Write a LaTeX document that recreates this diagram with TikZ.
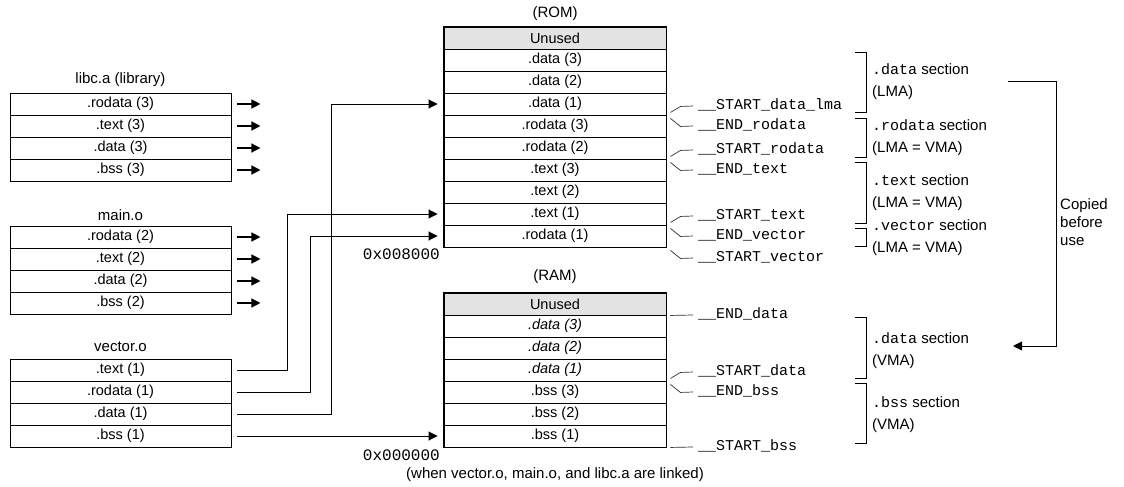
\documentclass[tikz,border=0pt]{standalone}
\usepackage{fontspec}
\setmainfont{Liberation Sans}
\setmonofont{Liberation Mono}
\usetikzlibrary{arrows.meta, positioning, calc}

\tikzset{
    row/.style={draw, line width=0.9pt, minimum width=221pt, minimum height=22pt,
        inner sep=0pt, font=\fontsize{14.5}{16}\selectfont},
    memrow/.style={row, minimum width=222pt},
    unused/.style={memrow, fill=gray!22},
    title/.style={font=\fontsize{15}{17}\selectfont},
    sym/.style={anchor=west, inner sep=0pt, text height=9pt, text depth=2pt,
        font=\fontsize{15}{17}\ttfamily},
    addr/.style={anchor=east, inner sep=0pt, font=\fontsize{16}{18}\ttfamily},
    seclbl/.style={anchor=west, inner sep=0pt, align=left,
        font=\fontsize{15}{22}\selectfont},
    leader/.style={line width=0.7pt, black!80},
    stub/.style={line width=1.3pt, -{Triangle[length=9pt,width=9pt]}},
    link/.style={line width=0.9pt, -{Triangle[length=9pt,width=9pt]}},
    sect/.style={line width=1.8pt},
    outer/.style={line width=1.4pt},
    brk/.style={line width=0.7pt}
}

\begin{document}
\begin{tikzpicture}[x=1pt, y=-1pt]
    \useasboundingbox (0,0) rectangle (1124,487);

    % Object files
    \node[title] (libt) at (120.5,80) {libc.a (library)};
    \foreach \t [count=\i] in {{.rodata (3)},{.text (3)},{.data (3)},{.bss (3)}} {
        \node[row] (lib\i) at (120.5,82+22*\i) {\t};
        \draw[stub] ([xshift=6pt]lib\i.east) -- ++(23,0);
    }

    \node[title] (maint) at (120.5,215) {main.o};
    \foreach \t [count=\i] in {{.rodata (2)},{.text (2)},{.data (2)},{.bss (2)}} {
        \node[row] (main\i) at (120.5,215+22*\i) {\t};
        \draw[stub] ([xshift=6pt]main\i.east) -- ++(23,0);
    }

    \node[title] (vect) at (120.5,347) {vector.o};
    \foreach \t [count=\i] in {{.text (1)},{.rodata (1)},{.data (1)},{.bss (1)}}
        \node[row] (vec\i) at (120.5,348+22*\i) {\t};

    % ROM image
    \node[title] (romt) at (555,14) {(ROM)};
    \node[unused] (rom1) at (555,38) {Unused};
    \foreach \t [count=\i from 2] in {{.data (3)},{.data (2)},{.data (1)},{.rodata (3)},
            {.rodata (2)},{.text (3)},{.text (2)},{.text (1)},{.rodata (1)}}
        \node[memrow] (rom\i) at (555,16+22*\i) {\t};
    \foreach \i in {1,4,6,9}
        \draw[sect] (rom\i.south west) -- (rom\i.south east);
    \draw[outer] (rom1.north west) rectangle (rom10.south east);
    \node[addr] (romaddr) at (440,254) {0x008000};

    % RAM image
    \node[title] (ramt) at (555,277) {(RAM)};
    \node[unused] (ram1) at (555,304) {Unused};
    \foreach \t [count=\i from 2] in {{\itshape .data (3)},{\itshape .data (2)},{\itshape .data (1)},
            {.bss (3)},{.bss (2)},{.bss (1)}}
        \node[memrow] (ram\i) at (555,282+22*\i) {\t};
    \foreach \i in {1,4}
        \draw[sect] (ram\i.south west) -- (ram\i.south east);
    \draw[outer] (ram1.north west) rectangle (ram7.south east);
    \node[addr] (ramaddr) at (440,455) {0x000000};

    % Links from vector.o
    \draw[link] ([xshift=6pt]vec1.east) -- ++(50,0) |- ([xshift=-6pt]rom9.west);
    \draw[link] ([xshift=6pt]vec2.east) -- ++(73,0) |- ([xshift=-6pt]rom10.west);
    \draw[link] ([xshift=6pt]vec3.east) -- ++(94,0) |- ([xshift=-6pt]rom4.west);
    \draw[link] ([xshift=6pt]vec4.east) -- ([xshift=-6pt]ram7.west);

    % Symbols, ROM
    \node[sym] (sdlma) at (698,106) {\_\_START\_data\_lma};
    \node[sym] (erod) at (698,126) {\_\_END\_rodata};
    \node[sym] (srod) at (698,150) {\_\_START\_rodata};
    \node[sym] (etxt) at (698,170) {\_\_END\_text};
    \node[sym] (stxt) at (698,216) {\_\_START\_text};
    \node[sym] (evec) at (698,236) {\_\_END\_vector};
    \node[sym] (svec) at (698,258) {\_\_START\_vector};
    \draw[leader] ($(rom4.south east)+(4,-3)$) -- ++(10,-6) -- ([xshift=-5pt]sdlma.west);
    \draw[leader] ($(rom4.south east)+(4,3)$) -- ++(10,8) -- ([xshift=-5pt]erod.west);
    \draw[leader] ($(rom6.south east)+(4,-3)$) -- ++(10,-6) -- ([xshift=-5pt]srod.west);
    \draw[leader] ($(rom6.south east)+(4,3)$) -- ++(10,8) -- ([xshift=-5pt]etxt.west);
    \draw[leader] ($(rom9.south east)+(4,-3)$) -- ++(10,-6) -- ([xshift=-5pt]stxt.west);
    \draw[leader] ($(rom9.south east)+(4,3)$) -- ++(10,8) -- ([xshift=-5pt]evec.west);
    \draw[leader] ($(rom10.south east)+(4,3)$) -- ++(10,8) -- ([xshift=-5pt]svec.west);

    % Symbols, RAM
    \node[sym] (edat) at (698,315) {\_\_END\_data};
    \node[sym] (sdat) at (698,372) {\_\_START\_data};
    \node[sym] (ebss) at (698,392) {\_\_END\_bss};
    \node[sym] (sbss) at (698,447) {\_\_START\_bss};
    \draw[leader] ([xshift=4pt]ram1.south east) -- ([xshift=-5pt]edat.west);
    \draw[leader] ($(ram4.south east)+(4,-3)$) -- ++(10,-6) -- ([xshift=-5pt]sdat.west);
    \draw[leader] ($(ram4.south east)+(4,3)$) -- ++(10,8) -- ([xshift=-5pt]ebss.west);
    \draw[leader] ([xshift=4pt]ram7.south east) -- ([xshift=-5pt]sbss.west);

    % Section brackets
    \draw[brk] (855,52) -- (866,52) -- (866,112) -- (855,112);
    \draw[brk] (855,118) -- (866,118) -- (866,157) -- (855,157);
    \draw[brk] (855,162) -- (866,162) -- (866,223) -- (855,223);
    \draw[brk] (855,228) -- (866,228) -- (866,246) -- (855,246);
    \draw[brk] (855,317) -- (866,317) -- (866,378) -- (855,378);
    \draw[brk] (855,383) -- (866,383) -- (866,443) -- (855,443);

    \node[seclbl] (secdl) at (872,82) {\texttt{.data} section\\(LMA)};
    \node[seclbl] (secro) at (872,138) {\texttt{.rodata} section\\(LMA = VMA)};
    \node[seclbl] (sectx) at (872,193) {\texttt{.text} section\\(LMA = VMA)};
    \node[seclbl] (secvc) at (872,238) {\texttt{.vector} section\\(LMA = VMA)};
    \node[seclbl] (secdv) at (872,351) {\texttt{.data} section\\(VMA)};
    \node[seclbl] (secbs) at (872,415) {\texttt{.bss} section\\(VMA)};

    % Copy arrow
    \coordinate (cpfrom) at (1008,81);
    \coordinate (cpto) at (1013,346);
    \draw[link] (cpfrom) -- ++(48,0) |- (cpto);
    \node[seclbl, font=\fontsize{15}{18}\selectfont] (copied) at (1060,222) {Copied\\before\\use};

    \node[title] (caption) at (555,475) {(when vector.o, main.o, and libc.a are linked)};
\end{tikzpicture}
\end{document}
